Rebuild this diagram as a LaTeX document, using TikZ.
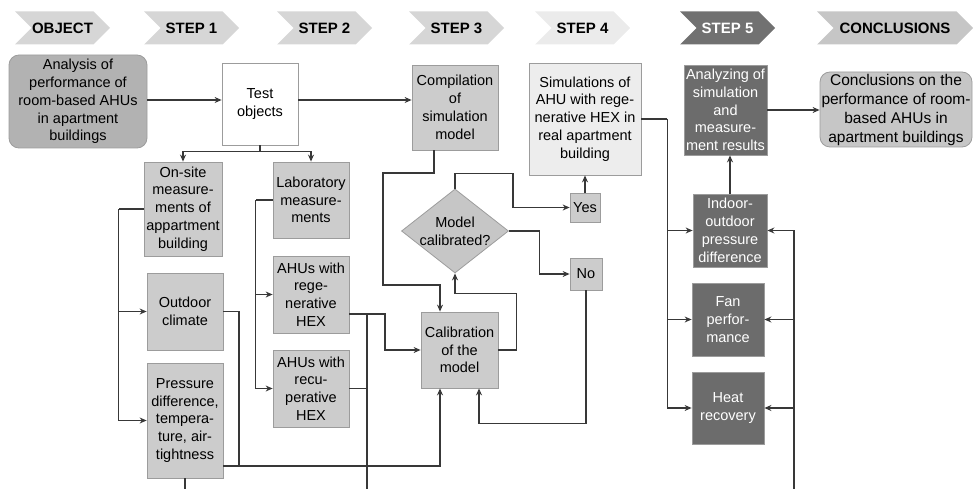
\documentclass[tikz,border=0pt]{standalone}
\usepackage{fontspec}
\setmainfont{Liberation Sans}
\usetikzlibrary{shapes.symbols, shapes.geometric, positioning, calc, arrows.meta}
\definecolor{hdgray}{HTML}{D6D6D6}
\definecolor{hdpale}{HTML}{EBEBEB}
\definecolor{hddark}{HTML}{717171}
\definecolor{hdmid}{HTML}{C6C6C6}
\definecolor{boxgray}{HTML}{CCCCCC}
\definecolor{rimgray}{HTML}{9C9C9C}
\definecolor{objgray}{HTML}{B2B2B2}
\definecolor{fillpale}{HTML}{EDEDED}
\definecolor{filldark}{HTML}{6C6C6C}
\definecolor{linegray}{HTML}{383838}

\tikzset{
  head/.style={signal, signal to=east, signal from=west, minimum height=33, minimum width=95, inner sep=0, draw=none, fill=hdgray, font=\bfseries\fontsize{15}{15}\selectfont},
  box/.style={draw=rimgray, fill=boxgray, align=center, inner sep=1, line width=0.8pt, font=\fontsize{14.5}{17.8}\selectfont},
  darkbox/.style={box, fill=filldark, text=white},
  decision/.style={diamond, draw=rimgray, fill=hdmid, inner sep=0, line width=0.8pt},
  flow/.style={draw=linegray, line width=1.1pt, -{Stealth[length=7,width=6]}},
  wire/.style={draw=linegray, line width=1.1pt}
}

\begin{document}
\begin{tikzpicture}[x=1pt, y=-1pt]
    \useasboundingbox (0,0) rectangle (973,489);
    % header row
    \node[head] (hobj) at (62.5,28) {OBJECT};
    \node[head] (hstepa) at (191.5,28) {STEP 1};
    \node[head] (hstepb) at (324.5,28) {STEP 2};
    \node[head] (hstepc) at (456.5,28) {STEP 3};
    \node[head, fill=hdpale] (hstepd) at (582.5,28) {STEP 4};
    \node[head, fill=hddark, text=white] (hstepe) at (727.5,28) {STEP 5};
    \node[head, fill=hdmid, minimum width=156] (hconcl) at (895,28) {CONCLUSIONS};
    %
    \node[box, fill=objgray, rounded corners=10, minimum width=138, minimum height=93] (analysis) at (78,101.5) {Analysis of\\performance of\\room-based AHUs\\in apartment\\buildings};
    \node[box, fill=white, minimum width=76, minimum height=82] (test) at (260,104) {Test\\objects};
    \node[box, minimum width=86, minimum height=85] (compile) at (455,107.5) {Compilation\\of\\simulation\\model};
    \node[box, fill=fillpale, minimum width=112, minimum height=112] (sim) at (585,119) {Simulations of\\AHU with rege-\\nerative HEX in\\real apartment\\building};
    \node[darkbox, minimum width=83, minimum height=90] (analyz) at (725.5,110) {Analyzing of\\simulation\\and\\measure-\\ment results};
    \node[box, fill=hdmid, rounded corners=10, minimum width=152, minimum height=75, font=\fontsize{15.5}{19}\selectfont] (concl) at (896,109.5) {Conclusions on the\\performance of room-\\based AHUs in\\apartment buildings};
    %
    \node[box, minimum width=78, minimum height=94] (onsite) at (183,209) {On-site\\measure-\\ments of\\appartment\\building};
    \node[box, minimum width=76, minimum height=77] (outdoor) at (185,311.5) {Outdoor\\climate};
    \node[box, minimum width=76, minimum height=115] (pressure) at (185,420.5) {Pressure\\difference,\\tempera-\\ture, air-\\tightness};
    %
    \node[box, minimum width=76, minimum height=76] (lab) at (311,200) {Laboratory\\measure-\\ments};
    \node[box, minimum width=76, minimum height=77] (regen) at (311,294.5) {AHUs with\\rege-\\nerative\\HEX};
    \node[box, minimum width=76, minimum height=77] (recu) at (311,388.5) {AHUs with\\recu-\\perative\\HEX};
    %
    \node[decision, minimum width=107, minimum height=84] (calq) at (455,231) {};
    \node[align=center, font=\fontsize{14.5}{17.8}\selectfont] (calqtext) at (calq) {Model\\calibrated?};
    \node[box, minimum width=77, minimum height=76] (calib) at (459.5,350) {Calibration\\of the\\model};
    \node[box, minimum width=30, minimum height=29] (yes) at (585,207.5) {Yes};
    \node[box, minimum width=32, minimum height=32] (no) at (586,274) {No};
    %
    \node[darkbox, minimum width=74, minimum height=73] (indoor) at (730,230.5) {Indoor-\\outdoor\\pressure\\difference};
    \node[darkbox, minimum width=72, minimum height=73] (fan) at (728,319.5) {Fan\\perfor-\\mance};
    \node[darkbox, minimum width=72, minimum height=72] (heat) at (728,408) {Heat\\recovery};
    % object and step 1
    \draw[flow] (analysis.east) ++(0,-1.5) -- (test.west |- 0,100);
    \draw[flow] (test.east) ++(0,-4) -- (compile.west |- 0,100);
    \draw[wire] (test.south) -- ++(0,6) coordinate (split);
    \draw[flow] (split) -| (onsite.north);
    \draw[flow] (split) -| (lab.north);
    \draw[wire] (onsite.west) -- ++(-25,0) coordinate (busa);
    \draw[flow] (busa) |- (outdoor.west);
    \draw[flow] (busa) |- (pressure.west);
    \draw[wire] (lab.west) -- ++(-17,0) coordinate (busb);
    \draw[flow] (busb) |- (regen.west);
    \draw[flow] (busb) |- (recu.west);
    % step 2 to step 3
    \draw[wire] (outdoor.east) -| (239,466);
    \draw[flow] ([yshift=-45.5]pressure.east) -| ([xshift=-19.5]calib.south);
    \draw[wire] (pressure.south) -- (pressure.south |- 0,489);
    \draw[flow] ([yshift=-19.5]regen.east) -| (385,350) -- (calib.west);
    \draw[wire] (367,314) -- (367,489);
    \draw[wire] (recu.east) -- (367,388.5);
    % step 3
    \draw[flow] ([xshift=-21]compile.south) |- (383,173) -- (383,285) -| ([xshift=-19.5]calib.north);
    \draw[flow] (calib.east) -- ++(18,0) |- ($(calq.south)+(0,20)$) -- (calq.south);
    \draw[flow] (calq.north) -- ++(0,-15) -| (513,207.5) -- (yes.west);
    \draw[flow] (calq.east) -- ++(31,0) |- (no.west);
    \draw[flow] (yes.north) -- (yes.north |- sim.south);
    \draw[flow] (no.south) |- ($(calib.south)+(19.5,35)$) -- ([xshift=19.5]calib.south);
    % step 4 and 5
    \draw[wire] (sim.east) -- ++(26,0) coordinate (busc);
    \draw[flow] (busc) |- (indoor.west);
    \draw[flow] (busc) |- (fan.west);
    \draw[flow] (busc) |- (heat.west);
    \draw[flow] (indoor.north) -- (indoor.north |- analyz.south);
    \draw[flow] (analyz.east) -- (analyz.east -| concl.west);
    \coordinate (busd) at (794,489);
    \draw[flow] (busd) |- (indoor.east);
    \draw[flow] (busd) |- (fan.east);
    \draw[flow] (busd) |- (heat.east);
\end{tikzpicture}
\end{document}
